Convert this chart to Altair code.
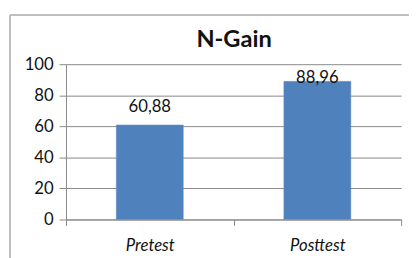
import altair as alt
import pandas as pd

categories = ["Pretest", "Posttest"]
values = [60.88, 88.96]
labels = ["60,88", "88,96"]
y_ticks = [0, 20, 40, 60, 80, 100]
title_text = ["N-Gain"]

df = pd.DataFrame({"cat": categories, "val": values, "lab": labels})

FONT = "Lato"

x_axis = alt.Axis(labelAngle=0, labelFont=FONT, labelFontSize=17, labelFontStyle="italic",
                  labelColor="#111", labelPadding=13, tickBand="extent", tickSize=6,
                  tickColor="#888", domainColor="#888", grid=False)
y_axis = alt.Axis(values=y_ticks, labelFont=FONT, labelFontSize=17,
                  labelColor="#111", labelPadding=6, tickSize=7, tickColor="#888",
                  labelOverlap=False, labelFlush=False,
                  domainColor="#888", gridColor="#888", gridWidth=1)
x_scale = alt.Scale(paddingInner=0, paddingOuter=0)
y_scale = alt.Scale(domain=[0, 100], nice=False)

base = alt.Chart(df)

bars = base.mark_bar(color="#4F81BD", stroke="#6D95C8", strokeWidth=0.5,
                     width=alt.RelativeBandSize(0.4)).encode(
    x=alt.X("cat:N", sort=categories, title=None, scale=x_scale, axis=x_axis),
    y=alt.Y("val:Q", title=None, scale=y_scale, axis=y_axis),
)

text = base.transform_calculate(
    ly="min(datum.val + 11.3, 91.1)"
).mark_text(font=FONT, fontSize=17, color="#111", baseline="middle").encode(
    x=alt.X("cat:N", sort=categories, title=None, scale=x_scale, axis=x_axis),
    y=alt.Y("ly:Q", title=None, scale=y_scale, axis=y_axis),
    text="lab:N",
)

title = alt.Chart(pd.DataFrame({"t": title_text})).mark_text(
    font=FONT, fontSize=24, fontWeight="bold", color="#111", baseline="middle"
).encode(x=alt.value(171), y=alt.value(-25), text="t:N")

border_left = alt.Chart(df).mark_rule(color="#BBBBBB", strokeWidth=1.5).encode(
    x=alt.value(-57), y=alt.value(-50), y2=alt.value(200)
)
border_top = alt.Chart(df).mark_rule(color="#BBBBBB", strokeWidth=1.5).encode(
    x=alt.value(-57), x2=alt.value(360), y=alt.value(-50)
)

chart = alt.layer(bars, text, title, border_left, border_top).properties(
    width=341, height=158,
    autosize=alt.AutoSizeParams(type="none"),
    padding={"left": 59, "top": 55, "right": 8, "bottom": 37},
).configure_view(stroke=None)

chart.save("out.html", embed_options={"renderer": "svg", "actions": False})
